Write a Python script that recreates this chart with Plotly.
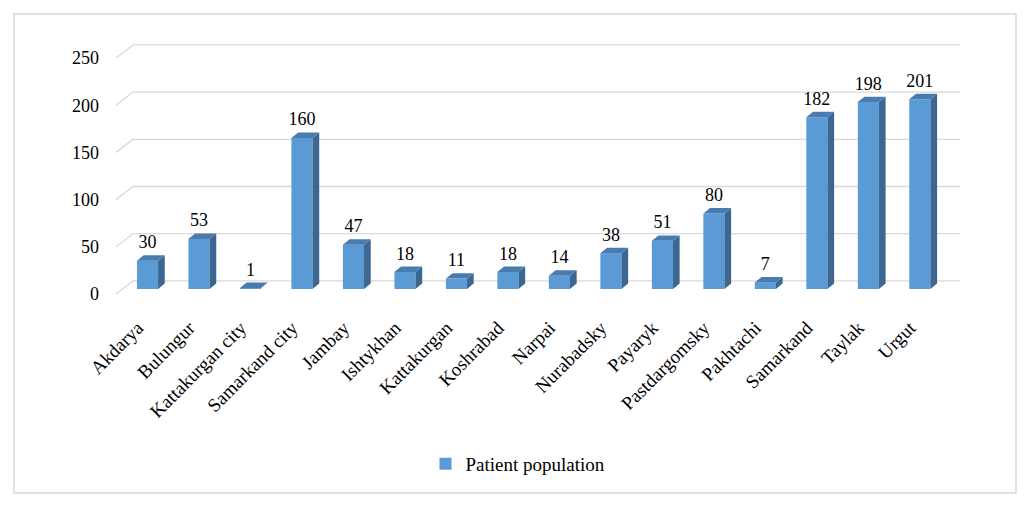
import plotly.graph_objects as go

categories = ["Akdarya", "Bulungur", "Kattakurgan city", "Samarkand city", "Jambay",
              "Ishtykhan", "Kattakurgan", "Koshrabad", "Narpai", "Nurabadsky",
              "Payaryk", "Pastdargomsky", "Pakhtachi", "Samarkand", "Taylak", "Urgut"]
values = [30, 53, 1, 160, 47, 18, 11, 18, 14, 38, 51, 80, 7, 182, 198, 201]
y_ticks = [0, 50, 100, 150, 200, 250]
series_name = "Patient population"

FRONT = "#5B9BD5"
SIDE = "#3B6790"
TOP = "#4A7BB0"
GRID = "#D9D9D9"
FONT = "Liberation Serif"
FS = 18
FS_CAT = 19

# page offset (browser body margin)
OFF = 8

# geometry (in axis units)
W = 0.41
DX, DY = 0.13, 5.8
X_FRONT, X_BACK, X_END = -0.612, -0.282, 15.78
FRONT_OFF, BACK_OFF = -5.3, 8.6
Y_MIN, Y_MAX = -11.65, 274.4
LABEL_SHIFT = -0.19   # category label anchor shift (category units)

xs = list(range(len(categories)))

fig = go.Figure()

fig.add_trace(go.Bar(x=xs, y=values, width=W, marker=dict(color=FRONT, line=dict(width=0)),
                     name=series_name, showlegend=True, hoverinfo="skip"))

side_x, side_y, top_x, top_y = [], [], [], []
for i, v in zip(xs, values):
    r = i + W / 2
    l = i - W / 2
    side_x += [r, r + DX, r + DX, r, r, None]
    side_y += [0, DY, v + DY, v, 0, None]
    top_x += [l, l + DX, r + DX, r, l, None]
    top_y += [v, v + DY, v + DY, v, v, None]

fig.add_trace(go.Scatter(x=side_x, y=side_y, fill="toself", fillcolor=SIDE, mode="lines",
                         line=dict(width=0, color=SIDE), showlegend=False, hoverinfo="skip"))
fig.add_trace(go.Scatter(x=top_x, y=top_y, fill="toself", fillcolor=TOP, mode="lines",
                         line=dict(width=0, color=TOP), showlegend=False, hoverinfo="skip"))

fig.add_trace(go.Scatter(x=xs, y=[v + 18 for v in values], mode="text",
                         text=[str(v) for v in values], textposition="middle center",
                         textfont=dict(family=FONT, size=FS, color="#000000"),
                         showlegend=False, hoverinfo="skip"))

fig.add_trace(go.Scatter(x=[X_FRONT], y=[0], yaxis="y2", mode="markers",
                         marker=dict(opacity=0), showlegend=False, hoverinfo="skip"))

shapes = []
for t in y_ticks:
    shapes.append(dict(type="line", xref="x", yref="y", layer="below",
                       x0=X_FRONT, y0=t + FRONT_OFF, x1=X_BACK, y1=t + BACK_OFF,
                       line=dict(color=GRID, width=1.3)))
    shapes.append(dict(type="line", xref="x", yref="y", layer="below",
                       x0=X_BACK, y0=t + BACK_OFF, x1=X_END, y1=t + BACK_OFF,
                       line=dict(color=GRID, width=1.3)))

FW, FH = 1016, 496
L, T = 116 - OFF, 30 - OFF
R = FW - (960 - OFF)
B = FH - (300 - OFF)
pw, ph = FW - L - R, FH - T - B


def px2paper_x(p):
    return (p - OFF - L) / pw


def px2paper_y(p):
    return (FH - B - (p - OFF)) / ph


shapes.append(dict(type="rect", xref="paper", yref="paper", layer="below",
                   x0=px2paper_x(14), x1=px2paper_x(1016),
                   y0=px2paper_y(493), y1=px2paper_y(14),
                   line=dict(color=GRID, width=1.5)))

fig.update_layout(
    width=FW, height=FH,
    margin=dict(l=L, r=R, t=T, b=B, pad=0),
    paper_bgcolor="white", plot_bgcolor="white",
    font=dict(family=FONT, size=FS, color="#000000"),
    shapes=shapes,
    showlegend=True,
    legend=dict(orientation="h", x=px2paper_x(518), xanchor="center",
                y=px2paper_y(464), yanchor="middle", itemwidth=30,
                font=dict(family=FONT, size=FS_CAT, color="#000000")),
    xaxis=dict(range=[X_FRONT, X_END], tickmode="array",
               tickvals=[i + LABEL_SHIFT for i in xs], ticktext=categories,
               tickangle=-45, showgrid=False, zeroline=False, showline=False, ticks="",
               ticklabelstandoff=12,
               tickfont=dict(family=FONT, size=FS_CAT, color="#000000")),
    yaxis=dict(range=[Y_MIN, Y_MAX], showgrid=False, zeroline=False, showline=False,
               showticklabels=False, ticks=""),
    yaxis2=dict(range=[Y_MIN - FRONT_OFF, Y_MAX - FRONT_OFF], overlaying="y", side="left",
                tickmode="array", tickvals=y_ticks, showgrid=False, zeroline=False,
                showline=False, ticks="", ticklabelstandoff=16,
                tickfont=dict(family=FONT, size=FS, color="#000000")),
)

fig.write_html("out.html")
